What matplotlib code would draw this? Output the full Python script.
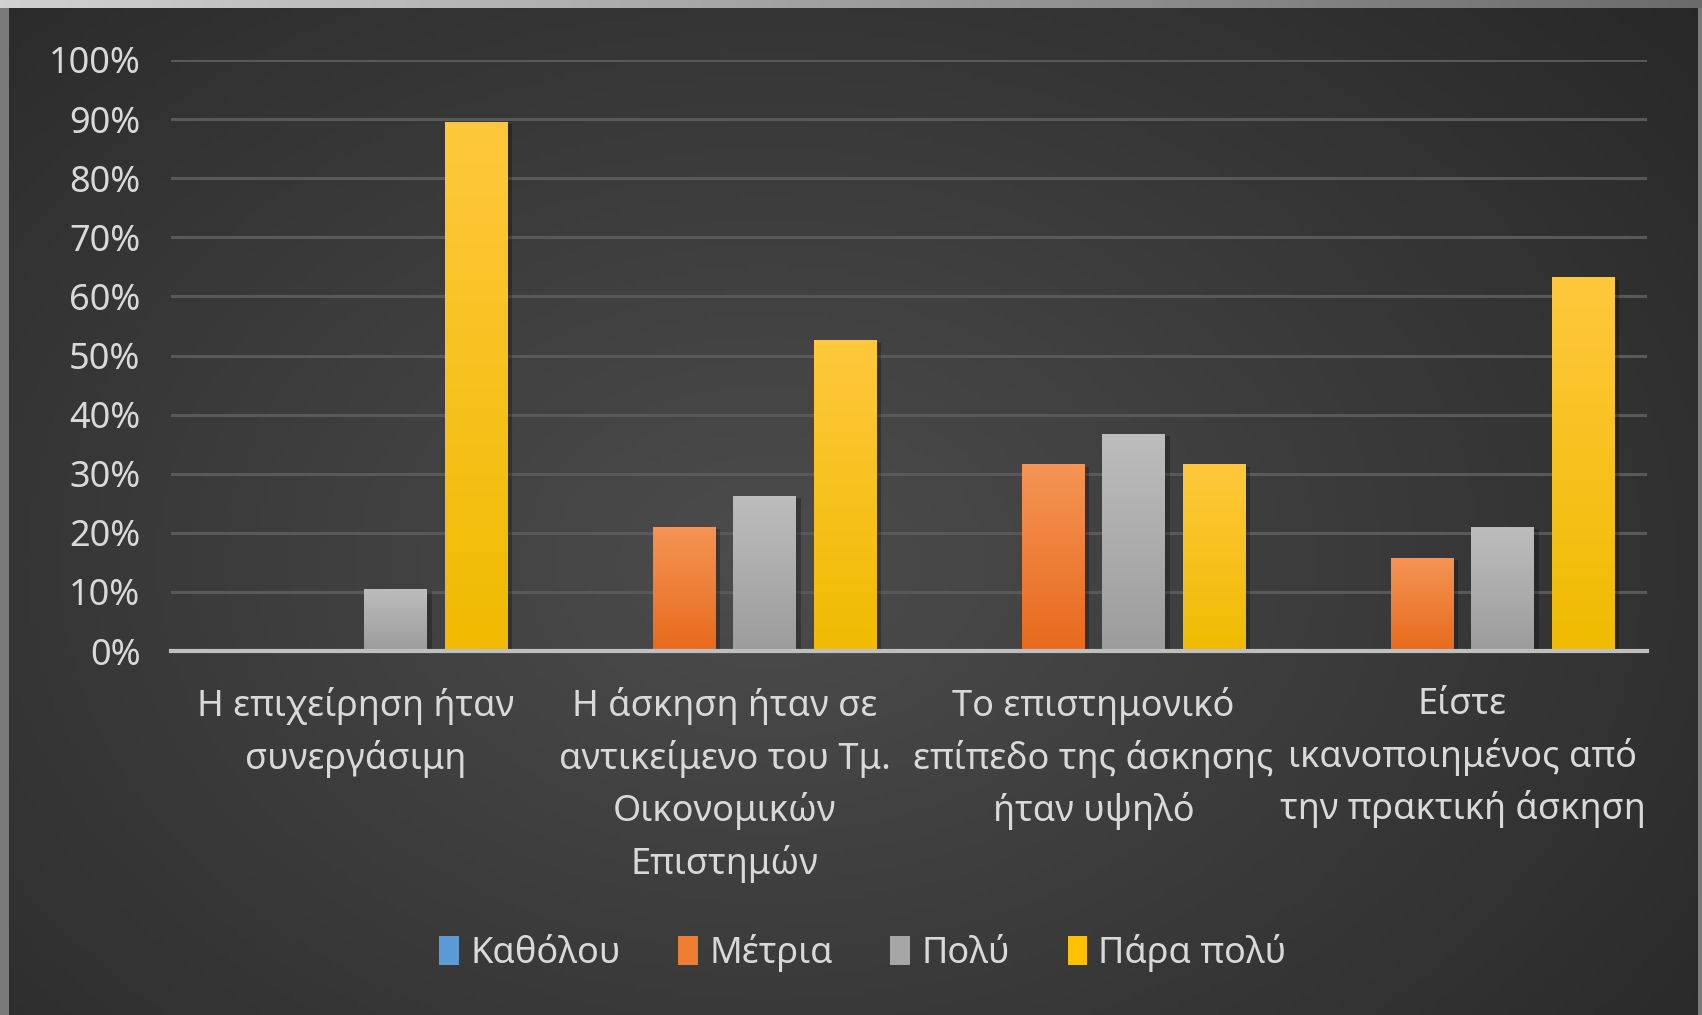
import numpy as np
import matplotlib.pyplot as plt
from matplotlib.colors import LinearSegmentedColormap
from matplotlib.patches import Patch, Rectangle

plt.rcParams['font.family'] = ['Noto Sans', 'DejaVu Sans']

# Daten - Anteile der Antworten pro Frage
kategorien = [
    "Η επιχείρηση ήταν\nσυνεργάσιμη",
    "Η άσκηση ήταν σε\nαντικείμενο του Τμ.\nΟικονομικών\nΕπιστημών",
    "Το επιστημονικό\nεπίπεδο της άσκησης\nήταν υψηλό",
    "Είστε\nικανοποιημένος από\nτην πρακτική άσκηση",
]
serien = ["Καθόλου", "Μέτρια", "Πολύ", "Πάρα πολύ"]
katholou = [0.0, 0.0, 0.0, 0.0]
metria = [0.0, 0.21, 0.316, 0.158]
poly = [0.105, 0.263, 0.368, 0.21]
para_poly = [0.895, 0.526, 0.316, 0.632]
y_ticks = [0, 0.1, 0.2, 0.3, 0.4, 0.5, 0.6, 0.7, 0.8, 0.9, 1.0]

werte = [katholou, metria, poly, para_poly]
farben = ["#5b9bd5", "#ed7d31", "#a5a5a5", "#ffc000"]
# (oben, unten) fuer den Verlauf
verlauf = [("#6aa8e0", "#4a88c4"), ("#f59455", "#e86a1c"),
           ("#bdbdbd", "#9c9c9c"), ("#ffc83c", "#f0bb00")]

fig = plt.figure(figsize=(17.02, 10.15), dpi=100)
fig.patch.set_facecolor("#7a7a7a")

# Hintergrund mit Rahmen und Verlauf
bg = fig.add_axes([0, 0, 1, 1], zorder=-10)
bg.set_axis_off()
ny, nx = 200, 340
xx, yy = np.meshgrid(np.linspace(0, 1, nx), np.linspace(1, 0, ny))
d = np.sqrt(((xx - 0.45) / 0.75) ** 2 + ((yy - 0.45) / 0.9) ** 2)
hell = np.clip(1 - d, 0, 1)
grau = 0.15 + 0.15 * hell
bg.imshow(np.dstack([grau, grau, grau]), extent=[0.005, 0.997, 0, 0.992],
          aspect="auto", zorder=1)
top = np.linspace(0.82, 0.42, nx)
top = np.dstack([top, top, top])
bg.imshow(np.repeat(top, 2, axis=0), extent=[0, 1, 0.992, 1], aspect="auto", zorder=2)
bg.set_xlim(0, 1)
bg.set_ylim(0, 1)

ax = fig.add_axes([0.1005, 0.3586, 0.8672, 0.5823])
ax.patch.set_alpha(0)

x = np.arange(len(kategorien))
breite = 0.17
abstand = 0.218
for i, (name, vals) in enumerate(zip(serien, werte)):
    pos = x + (i - 1.5) * abstand
    bars = ax.bar(pos, vals, breite, color=farben[i], label=name, zorder=3)
    cmap = LinearSegmentedColormap.from_list("v%d" % i, [verlauf[i][1], verlauf[i][0]])
    for b in bars:
        h = b.get_height()
        if h <= 0:
            continue
        bx = b.get_x()
        # leichter Schatten
        ax.add_patch(Rectangle((bx + 0.012, 0), breite, h - 0.004, color="black",
                               alpha=0.25, zorder=2, lw=0))
        grad = np.linspace(0, 1, 100).reshape(-1, 1)
        im = ax.imshow(grad, extent=[bx, bx + breite, 0, h], origin="lower",
                       cmap=cmap, aspect="auto", zorder=4)
        im.set_clip_path(b)

ax.set_xlim(-0.5, len(kategorien) - 0.5)
ax.set_ylim(0, 1.0)
ax.set_yticks(y_ticks)
ax.set_yticklabels([f"{int(round(t * 100))}%" for t in y_ticks])
ax.set_xticks(x)
ax.set_xticklabels(kategorien, linespacing=1.5)
ax.tick_params(axis="both", length=0, labelsize=26, colors="#d9d9d9")
ax.tick_params(axis="y", pad=22)
ax.tick_params(axis="x", pad=26)
ax.grid(axis="y", color="#595959", linewidth=2.2, zorder=0)
ax.set_axisbelow(True)
for s in ["top", "right", "left"]:
    ax.spines[s].set_visible(False)
ax.spines["bottom"].set_color("#bfbfbf")
ax.spines["bottom"].set_linewidth(3)
ax.spines["bottom"].set_zorder(5)

handles = [Patch(facecolor=c, edgecolor="none") for c in farben]
fig.legend(handles, serien, loc="center", bbox_to_anchor=(0.507, 0.061), ncol=4,
           frameon=False, fontsize=26, labelcolor="#d9d9d9", handlelength=0.55,
           handleheight=0.85, handletextpad=0.3, columnspacing=1.6)

fig.savefig("out.png", dpi=100, facecolor=fig.get_facecolor())
